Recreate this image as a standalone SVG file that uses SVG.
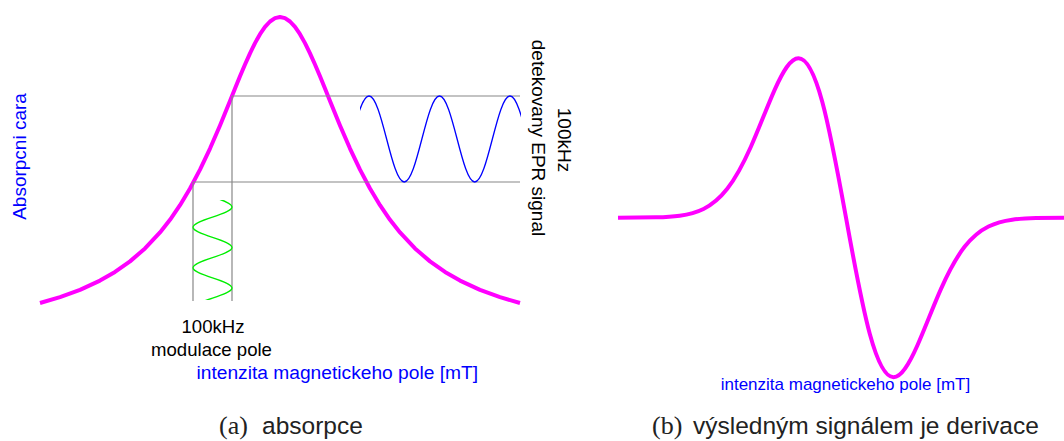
<svg xmlns="http://www.w3.org/2000/svg" width="1064" height="441" viewBox="0 0 1064 441">
<style>
.curve{fill:none;stroke:#ff00ff;stroke-width:4;stroke-linejoin:round;stroke-linecap:butt}
.guide{fill:none;stroke:#888;stroke-width:1.2}
.sigb{fill:none;stroke:#0000ff;stroke-width:1.3}
.sigg{fill:none;stroke:#00ee00;stroke-width:1.3}
.lbl{font-family:"Liberation Sans",Arial,sans-serif;fill:#000}
.blue{font-family:"Liberation Sans",Arial,sans-serif;fill:#0000ff}
.cap{font-family:"Liberation Sans",Arial,sans-serif;fill:#222}
.capser{font-family:"Liberation Serif","Times New Roman",serif;fill:#222}
</style>
<defs>
<clipPath id="clipBlue"><rect x="360" y="0" width="161" height="441"/></clipPath>
<clipPath id="clipGreen"><rect x="0" y="200" width="1064" height="100"/></clipPath>
</defs>
<rect width="1064" height="441" fill="#fff"/>

<g id="absorption-curve">
<polyline class="curve" points="40,302.97 60,297.16 80,289.87 100,280.59 115,271.93 130,261.37 145,248.41 160,232.44 170,219.76 180,205.2 190,188.56 200,169.67 210,148.56 220,125.45 225,113.32 230,100.98 235,88.58 240,76.33 245,64.49 250,53.31 255,43.12 260,34.22 265,26.92 270,21.48 275,18.13 280,17 285,18.13 290,21.48 295,26.92 300,34.22 305,43.12 310,53.31 315,64.49 320,76.33 325,88.58 330,100.98 335,113.32 340,125.45 350,148.56 360,169.67 370,188.56 380,205.2 390,219.76 400,232.44 415,248.41 430,261.37 445,271.93 460,280.59 480,289.87 500,297.16 520,302.97"/>
</g>

<g id="connectors">
<line class="guide" x1="232" y1="96" x2="520" y2="96"/>
<line class="guide" x1="193" y1="182" x2="520" y2="182"/>
<line class="guide" x1="232" y1="96" x2="232" y2="301"/>
<line class="guide" x1="193" y1="182" x2="193" y2="301"/>
</g>

<g id="modulation-signal">
<path class="sigg" clip-path="url(#clipGreen)" d="M193,186.75 C193,194.13 232,199.62 232,207 C232,214.38 193,219.87 193,227.25 C193,234.63 232,240.12 232,247.5 C232,254.88 193,260.37 193,267.75 C193,275.13 232,280.62 232,288 C232,295.38 193,300.87 193,308.25"/>
</g>

<g id="detected-signal">
<path class="sigb" clip-path="url(#clipBlue)" d="M333.75,182 C346.59,182 356.16,96 369,96 C381.84,96 391.41,182 404.25,182 C417.09,182 426.66,96 439.5,96 C452.34,96 461.91,182 474.75,182 C487.59,182 497.16,96 510,96 C522.84,96 532.41,182 545.25,182"/>
</g>

<g id="label-absorpcni">
<text class="blue" font-size="19" text-anchor="middle" transform="translate(26,156.5) rotate(-90)">Absorpcni cara</text>
</g>

<g id="label-modulace">
<text class="lbl" font-size="18.6" text-anchor="middle" x="213" y="332.7">100kHz</text>
<text class="lbl" font-size="18.6" text-anchor="middle" x="211.5" y="355.7">modulace pole</text>
</g>

<g id="label-axis-a">
<text class="blue" font-size="19.2" x="196.5" y="379">intenzita magnetickeho pole [mT]</text>
</g>

<g id="label-detekovany">
<text class="lbl" font-size="19" text-anchor="middle" transform="translate(557.5,140) rotate(90)">100kHz</text>
<text class="lbl" font-size="19" text-anchor="middle" transform="translate(531.5,138) rotate(90)">detekovany EPR signal</text>
</g>

<g id="derivative-curve">
<path class="curve" d="M618,217.7 L656,217.35 C663.92,217.13 671.83,216.77 679.75,215.69 C687.67,214.61 695.58,212.83 703.5,208.94 C711.42,205.05 719.33,198.92 727.25,188.81 C735.17,178.7 743.08,164.32 751,146.52 C758.92,128.72 766.83,107.43 774.75,89.64 C782.67,71.85 790.58,58.2 798.5,58.2 C806.42,58.2 814.33,72.65 822.25,101.66 C830.17,130.67 838.08,173.87 846,217.7 C853.92,261.53 861.83,304.73 869.75,333.74 C877.67,362.75 885.58,377.2 893.5,377.2 C901.42,377.2 909.33,363.55 917.25,345.76 C925.17,327.97 933.08,306.68 941,288.88 C948.92,271.08 956.83,256.7 964.75,246.59 C972.67,236.48 980.58,230.35 988.5,226.46 C996.42,222.57 1004.33,220.79 1012.25,219.71 C1020.17,218.63 1028.08,218.27 1036,218.05 L1064,217.7"/>
</g>

<g id="label-axis-b">
<text class="blue" font-size="17" x="720.7" y="390">intenzita magnetickeho pole [mT]</text>
</g>

<g id="caption-a">
<text x="219" y="434"><tspan class="capser" font-size="26">(a)</tspan><tspan class="cap" font-size="24.5" x="262">absorpce</tspan></text>
</g>

<g id="caption-b">
<text x="652" y="434"><tspan class="capser" font-size="26">(b)</tspan><tspan class="cap" font-size="24.5" x="693">výsledným signálem je derivace</tspan></text>
</g>
</svg>
